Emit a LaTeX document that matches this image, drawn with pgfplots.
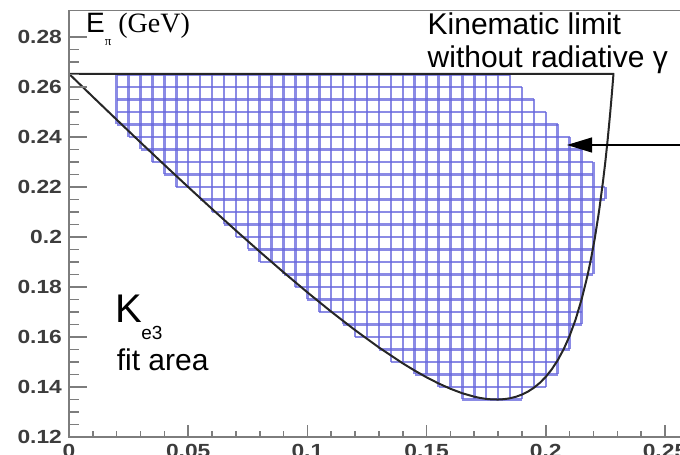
\documentclass[border=0pt]{standalone}
\usepackage{pgfplots}
\pgfplotsset{compat=1.18}
\usepackage{pgfplotstable}
\usepackage{fontspec}
\setmainfont{Liberation Sans}
\newfontfamily\serif{Liberation Serif}
\usetikzlibrary{arrows.meta}
\usepackage{graphicx}

\definecolor{cellblue}{RGB}{100,100,220}
\definecolor{axgray}{RGB}{125,125,125}
\definecolor{lblgray}{RGB}{60,60,60}
\newcommand{\tl}[1]{\scalebox{1.2}[1]{#1}}

% vertical cell edges: x, from ylo to yhi
\pgfplotstableread{
x ylo yhi
0.020 0.245 0.265
0.025 0.240 0.265
0.030 0.235 0.265
0.035 0.230 0.265
0.040 0.225 0.265
0.045 0.220 0.265
0.050 0.220 0.265
0.055 0.215 0.265
0.060 0.210 0.265
0.065 0.205 0.265
0.070 0.200 0.265
0.075 0.195 0.265
0.080 0.190 0.265
0.085 0.190 0.265
0.090 0.185 0.265
0.095 0.180 0.265
0.100 0.175 0.265
0.105 0.170 0.265
0.110 0.170 0.265
0.115 0.165 0.265
0.120 0.160 0.265
0.125 0.160 0.265
0.130 0.155 0.265
0.135 0.150 0.265
0.140 0.150 0.265
0.145 0.145 0.265
0.150 0.145 0.265
0.155 0.140 0.265
0.160 0.140 0.265
0.165 0.135 0.265
0.170 0.135 0.265
0.175 0.135 0.265
0.180 0.135 0.265
0.185 0.135 0.265
0.190 0.135 0.260
0.195 0.140 0.255
0.200 0.140 0.250
0.205 0.145 0.245
0.210 0.155 0.240
0.215 0.165 0.235
0.220 0.185 0.230
0.225 0.215 0.220
}\vlines

% horizontal cell edges: y, from xlo to xhi
\pgfplotstableread{
y xlo xhi
0.135 0.165 0.190
0.140 0.155 0.200
0.145 0.145 0.205
0.150 0.135 0.205
0.155 0.130 0.210
0.160 0.120 0.210
0.165 0.115 0.215
0.170 0.105 0.215
0.175 0.100 0.215
0.180 0.095 0.215
0.185 0.090 0.220
0.190 0.080 0.220
0.195 0.075 0.220
0.200 0.070 0.220
0.205 0.065 0.220
0.210 0.060 0.220
0.215 0.055 0.225
0.220 0.045 0.225
0.225 0.040 0.220
0.230 0.035 0.220
0.235 0.030 0.215
0.240 0.025 0.210
0.245 0.020 0.205
0.250 0.020 0.200
0.255 0.020 0.195
0.260 0.020 0.190
0.265 0.020 0.185
}\hlines

% kinematic limit (no radiative photon)
\pgfplotstableread{
x y
0.000 0.26529
0.010 0.25607
0.020 0.24692
0.030 0.23784
0.040 0.22886
0.050 0.21998
0.060 0.21122
0.070 0.20259
0.080 0.19414
0.090 0.18588
0.100 0.17786
0.110 0.17012
0.120 0.16275
0.130 0.15582
0.140 0.14947
0.145 0.14656
0.150 0.14387
0.155 0.14143
0.160 0.13929
0.165 0.13749
0.170 0.13612
0.1725 0.13561
0.175 0.13524
0.1775 0.13503
0.180 0.13499
0.1825 0.13513
0.185 0.13549
0.1875 0.13610
0.190 0.13697
0.1925 0.13816
0.195 0.13970
0.1975 0.14165
0.200 0.14408
0.2025 0.14707
0.205 0.15070
0.2075 0.15512
0.210 0.16048
0.2125 0.16699
0.215 0.17500
0.2175 0.18459
0.219 0.19145
0.2205 0.19920
0.222 0.20822
0.2225 0.21149
0.224 0.22227
0.225 0.23030
0.226 0.23941
0.227 0.24950
0.2277 0.25712
0.2282 0.26301
0.22839 0.26529
0.000 0.26529
}\klimit

\begin{document}
\begin{tikzpicture}
\begin{axis}[
  name=ax,
  scale only axis,
  width=306.34pt, height=213.25pt,
  xmin=0, xmax=0.257, ymin=0.12, ymax=0.2906,
  clip=false,
  axis line style={axgray, line width=0.9pt},
  tick style={axgray, line width=0.8pt},
  tick align=inside,
  major tick length=6pt, minor tick length=3pt,
  xtick={0,0.05,0.1,0.15,0.2,0.25},
  xticklabels={\tl{0},\tl{0.05},\tl{0.1},\tl{0.15},\tl{0.2},\tl{0.25}},
  minor x tick num=4,
  xtick pos=bottom,
  ytick=\empty,
  xticklabel style={font=\fontsize{9.5}{10}\selectfont\bfseries, text=lblgray},
]
% histogram cells (fit area)
\addplot[draw=none, mark=none,
  error bars/.cd, y dir=plus, y explicit, error mark=none,
  error bar style={draw=cellblue, line width=1.25pt, opacity=0.75}]
  table[x=x, y=ylo, y error expr=\thisrow{yhi}-\thisrow{ylo}] {\vlines};
\addplot[draw=none, mark=none,
  error bars/.cd, x dir=plus, x explicit, error mark=none,
  error bar style={draw=cellblue, line width=1.25pt, opacity=0.75}]
  table[x=xlo, y=y, x error expr=\thisrow{xhi}-\thisrow{xlo}] {\hlines};
% kinematic limit
\addplot[black!85, line width=1pt, mark=none, line join=round] table[x=x,y=y] {\klimit};
% arrow
\draw[-{Triangle[length=12.5pt,width=7.5pt]}, line width=0.6pt, black]
  (axis cs:0.257,0.2368) -- (axis cs:0.2089,0.2368);
% texts
\node[anchor=base west, inner sep=0pt] at (axis cs:0.0070,0.2816)
  {\fontsize{14}{16}\selectfont E\raisebox{-6.5pt}{\fontsize{6.5}{7}\selectfont\serif π}\hspace{3.5pt}{\serif(GeV)}};
\node[anchor=base west, inner sep=0pt, font=\fontsize{15}{16.5}\selectfont]
  at (axis cs:0.1503,0.2808) {Kinematic limit};
\node[anchor=base west, inner sep=0pt, font=\fontsize{15}{16.5}\selectfont]
  at (axis cs:0.1503,0.2676) {without radiative γ};
\node[anchor=base west, inner sep=0pt] at (axis cs:0.0193,0.1656)
  {\fontsize{20}{22}\selectfont K};
\node[anchor=base west, inner sep=0pt] at (axis cs:0.0302,0.1588)
  {\fontsize{9.5}{10}\selectfont e3};
\node[anchor=base west, inner sep=0pt] at (axis cs:0.0199,0.1464)
  {\fontsize{15}{16}\selectfont fit area};
\end{axis}
\begin{axis}[
  at={(ax.south west)}, anchor=south west,
  scale only axis,
  width=306.34pt, height=213.25pt,
  xmin=0, xmax=0.257, ymin=0.12, ymax=0.2906,
  axis line style={axgray, line width=0.9pt},
  tick style={axgray, line width=0.8pt},
  tick align=inside,
  major tick length=9pt, minor tick length=5pt,
  xtick=\empty,
  ytick={0.12,0.14,0.16,0.18,0.2,0.22,0.24,0.26,0.28},
  yticklabels={\tl{0.12},\tl{0.14},\tl{0.16},\tl{0.18},\tl{0.2},\tl{0.22},\tl{0.24},\tl{0.26},\tl{0.28}},
  minor y tick num=3,
  ytick pos=left,
  yticklabel style={font=\fontsize{9.5}{10}\selectfont\bfseries, text=lblgray},
]
\end{axis}
\pgfresetboundingbox
\path[use as bounding box] ([shift={(-34.5pt,-9pt)}]ax.south west) rectangle ([shift={(305.5pt,218.5pt)}]ax.south west);
\end{tikzpicture}
\end{document}
